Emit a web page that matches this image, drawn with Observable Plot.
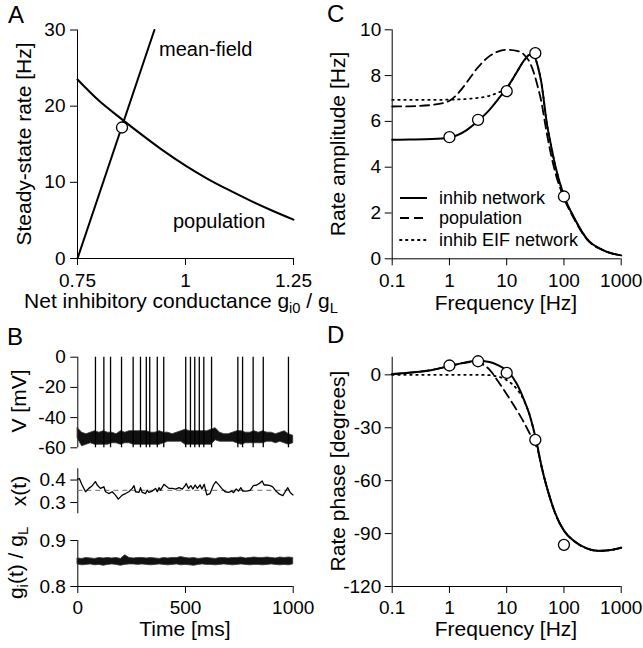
<!DOCTYPE html>
<html><head><meta charset="utf-8">
<script src="https://cdn.jsdelivr.net/npm/d3@7"></script>
<script src="https://cdn.jsdelivr.net/npm/@observablehq/plot@0.6"></script>
<style>
html,body{margin:0;padding:0;background:#fff;}
#fig{position:relative;width:643px;height:648px;overflow:hidden;background:#fff;}
#fig > svg{position:absolute;}
</style></head><body><div id="fig"></div>
<script>
// ---------- Panel A data ----------
const aG = [0.75, 0.8, 0.85, 0.9, 0.95, 1.0, 1.05, 1.1, 1.15, 1.2, 1.25];
const aPopRate = [23.5, 20.7, 18.4, 16.2, 14.1, 12.2, 10.5, 9.0, 7.6, 6.3, 5.1];
const aMfG = [0.75, 0.928];
const aMfRate = [0, 30];
const aFixG = [0.853];
const aFixRate = [17.2];
const aXTicks = [0.75, 1, 1.25];
const aYTicks = [0, 10, 20, 30];

// ---------- Panel C data ----------
const cSolidF = [0.1,0.2,0.5,1,2,3,5,7,10,15,20,25,30,35,40,50,60,70,100,150,250,500,1000];
const cSolidA = [5.2,5.21,5.23,5.3,5.62,5.97,6.5,6.95,7.45,8.15,8.65,8.9,8.85,8.4,7.75,5.95,4.9,4.1,2.75,1.8,0.88,0.36,0.15];
const cDashF = [0.1,0.2,0.5,1,1.5,2,3,5,7,10,15,20,25,30,35,40,50,60,70,100,150,250,500,1000];
const cDashA = [6.65,6.66,6.72,6.9,7.3,7.7,8.3,8.85,9.05,9.13,9.08,8.92,8.6,8.1,7.5,6.9,5.5,4.5,3.8,2.65,1.75,0.86,0.36,0.15];
const cDotF = [0.1,0.5,1,2,3,5,7,10,15,20,25,30,35,40,50,60,70,100,150,250,500,1000];
const cDotA = [6.94,6.94,6.95,6.98,7.02,7.12,7.25,7.45,8.15,8.65,8.9,8.85,8.4,7.75,5.95,4.9,4.1,2.75,1.8,0.88,0.36,0.15];
const cSimF = [1, 3.16, 10, 31.6, 100];
const cSimA = [5.31, 6.07, 7.32, 8.98, 2.72];
const freqTicks = [0.1, 1, 10, 100, 1000];
const cYTicks = [0, 2, 4, 6, 8, 10];

// ---------- Panel D data ----------
const dSolidF = [0.1,0.2,0.5,1,2,3,5,7,10,15,20,25,30,35,40,50,60,70,100,150,250,400,600,1000];
const dSolidP = [0.5,1.2,2.8,5.0,7.2,8.0,7.3,5.5,2.5,-5,-14,-22.5,-32,-41.5,-51,-63.5,-72,-78.3,-88.3,-94.2,-98.4,-99.8,-99.5,-98];
const dDashF = [0.1,0.2,0.5,1,2,3,4,5,7,10,15,20,25,30,35,40,50,60,70,100,150,250,400,600,1000];
const dDashP = [0.5,1.2,2.8,5.0,7.0,7.6,5.5,3,-3.5,-11,-20,-27,-33,-38,-43,-51,-63.5,-72,-78.3,-88.3,-94.2,-98.4,-99.8,-99.5,-98];
const dDotF = [0.1,0.5,1,2,3,5,7,10,15,20,25,30,35,40,50,60,70,100,150,250,400,600,1000];
const dDotP = [0,0,0,0,0,-0.2,-1,-3,-8,-14.5,-22.5,-32,-41.5,-51,-63.5,-72,-78.3,-88.3,-94.2,-98.4,-99.8,-99.5,-98];
const dSimF = [1, 3.16, 10, 31.6, 100];
const dSimP = [5.3, 7.7, 1.1, -36.9, -96.4];
const dYTicks = [-120, -90, -60, -30, 0];

// ---------- Panel B data ----------
const tGrid = [0,20,40,60,80,100,120,140,160,180,200,220,240,260,280,300,320,340,360,380,400,420,440,460,480,500,520,540,560,580,600,620,640,660,680,700,720,740,760,780,800,820,840,860,880,900,920,940,960,980,1000];
const vHi = [-47,-50,-51,-50,-49,-50,-49,-50,-50,-51,
             -49,-50,-49,-49,-49,-49,-49,-50,-50,-49,
             -50,-50,-51,-50,-49,-48,-49,-49,-49,-49,
             -49,-48,-47,-50,-51,-51,-50,-49,-49,-50,
             -50,-49,-50,-49,-50,-50,-51,-50,-49,-51,
             -52];
const vLo = [-54,-59,-58,-57,-58,-58,-58,-58,-57,-57,
             -58,-57,-57,-58,-58,-58,-58,-58,-58,-58,
             -57,-56,-56,-56,-56,-58,-58,-58,-58,-58,
             -58,-58,-55,-56,-56,-56,-56,-57,-58,-57,
             -57,-57,-57,-57,-56,-56,-57,-56,-57,-58,
             -57];
const spikeTimes = [82,121,152,203,257,291,318,334,369,399,501,523,543,564,585,621,743,765,814,861,978];
const spikePeak = 0;
const spikeReset = -60;
const vYTicks = [-60, -40, -20, 0];

const xT = [0,7,20,36,51,67,82,90,105,121,129,144,160,175,188,206,222,237,253,261,268,284,291,299,315,322,330,346,361,369,377,384,400,408,423,439,454,470,485,498,503,514,525,534,545,555,568,576,587,599,614,630,641,653,668,684,700,715,723,735,746,757,766,784,800,815,831,843,856,865,877,893,905,920,936,952,963,975,986,999];
const xV = [0.404,0.407,0.378,0.348,0.363,0.375,0.393,0.378,0.363,0.370,0.348,0.340,0.348,0.333,0.315,0.333,0.340,0.348,0.363,0.375,0.348,0.345,0.366,0.345,0.340,0.355,0.345,0.351,0.363,0.348,0.366,0.355,0.381,0.375,0.363,0.363,0.360,0.366,0.360,0.375,0.385,0.363,0.375,0.360,0.378,0.363,0.378,0.360,0.381,0.334,0.340,0.378,0.393,0.381,0.363,0.348,0.345,0.351,0.344,0.360,0.351,0.366,0.351,0.351,0.354,0.375,0.378,0.385,0.396,0.378,0.378,0.375,0.370,0.351,0.337,0.331,0.348,0.366,0.345,0.334];
const xMean = 0.354;
const xYTicks = [0.3, 0.4];

const gHi = [0.861,0.860,0.862,0.861,0.860,0.862,0.861,0.862,0.861,0.862,
             0.860,0.868,0.862,0.861,0.862,0.862,0.861,0.862,0.861,0.860,
             0.862,0.861,0.862,0.862,0.864,0.862,0.861,0.862,0.860,0.861,
             0.862,0.861,0.860,0.862,0.862,0.861,0.862,0.862,0.863,0.861,
             0.862,0.863,0.862,0.862,0.863,0.862,0.861,0.863,0.862,0.863,
             0.862];
const gLo = [0.848,0.846,0.847,0.848,0.846,0.847,0.845,0.847,0.848,0.847,
             0.845,0.847,0.848,0.848,0.847,0.848,0.847,0.846,0.847,0.848,
             0.847,0.846,0.847,0.848,0.846,0.847,0.846,0.845,0.847,0.848,
             0.847,0.847,0.846,0.847,0.848,0.847,0.846,0.847,0.848,0.847,
             0.846,0.847,0.847,0.846,0.847,0.848,0.847,0.846,0.847,0.846,
             0.848];
const gYTicks = [0.8, 0.9];
const tTicks = [0, 500, 1000];

// ---------- helpers ----------
const FONT = "'Liberation Sans', Arial, Helvetica, sans-serif";
const zip = (xs, ys, kx = "x", ky = "y") => xs.map((x, i) => ({[kx]: x, [ky]: ys[i]}));
const fmt = d => String(d);
function base(w, h, ml, mr, mt, mb) {
  return {width: w, height: h, marginLeft: ml, marginRight: mr, marginTop: mt, marginBottom: mb,
    style: {fontFamily: FONT, fontSize: "19px", background: "transparent", overflow: "visible", color: "#000", maxWidth: "none"}};
}
const fig = document.getElementById("fig");
function place(node, left, top) { node.style.left = left + "px"; node.style.top = top + "px"; node.style.position = "absolute"; fig.appendChild(node); }

// ---------- Panel A ----------
const plotA = Plot.plot({
  ...base(310, 300, 77, 17, 29.5, 42),
  x: {domain: [0.75, 1.25]}, y: {domain: [0, 30]},
  marks: [
    Plot.ruleX([0.75], {strokeWidth: 1}), Plot.ruleY([0], {strokeWidth: 1}),
    Plot.axisX({ticks: aXTicks, tickSize: 7, tickPadding: 8, tickFormat: fmt, label: null}),
    Plot.axisY({ticks: aYTicks, tickSize: 7, tickPadding: 5, tickFormat: fmt, label: null}),
    Plot.line(zip(aG, aPopRate), {x: "x", y: "y", curve: "monotone-x", strokeWidth: 2}),
    Plot.line(zip(aMfG, aMfRate), {x: "x", y: "y", strokeWidth: 2}),
    Plot.dot(zip(aFixG, aFixRate), {x: "x", y: "y", r: 5.5, fill: "white", stroke: "black", strokeWidth: 1.3})
  ]
});
place(plotA, 0, 0);

// ---------- Panel C ----------
const plotC = Plot.plot({
  ...base(323, 300, 71.7, 22.3, 29.3, 41.7),
  x: {type: "log", domain: [0.1, 1000]}, y: {domain: [0, 10]},
  marks: [
    Plot.ruleX([0.1]), Plot.ruleY([0]),
    Plot.axisX({ticks: freqTicks, tickSize: 7, tickPadding: 8, tickFormat: fmt, label: null}),
    Plot.axisY({ticks: cYTicks, tickSize: 7, tickPadding: 4, tickFormat: fmt, label: null}),
    Plot.line(zip(cDotF, cDotA), {x: "x", y: "y", curve: "monotone-x", strokeWidth: 1.8, strokeDasharray: "1.5,4.5", strokeLinecap: "round"}),
    Plot.line(zip(cDashF, cDashA), {x: "x", y: "y", curve: "monotone-x", strokeWidth: 1.8, strokeDasharray: "9,5"}),
    Plot.line(zip(cSolidF, cSolidA), {x: "x", y: "y", curve: "monotone-x", strokeWidth: 2}),
    Plot.dot(zip(cSimF, cSimA), {x: "x", y: "y", r: 5.5, fill: "white", stroke: "black", strokeWidth: 1.3})
  ]
});
place(plotC, 320, 0);

// ---------- Panel D ----------
const plotD = Plot.plot({
  ...base(323, 300, 71.7, 22.3, 36.7, 34),
  x: {type: "log", domain: [0.1, 1000]}, y: {domain: [-120, 10]},
  marks: [
    Plot.ruleX([0.1]), Plot.ruleY([-120]),
    Plot.axisX({ticks: freqTicks, tickSize: 7, tickPadding: 7, tickFormat: fmt, label: null}),
    Plot.axisY({ticks: dYTicks, tickSize: 7, tickPadding: 4, tickFormat: fmt, label: null}),
    Plot.line(zip(dDotF, dDotP), {x: "x", y: "y", curve: "monotone-x", strokeWidth: 1.8, strokeDasharray: "1.5,4.5", strokeLinecap: "round"}),
    Plot.line(zip(dDashF, dDashP), {x: "x", y: "y", curve: "monotone-x", strokeWidth: 1.8, strokeDasharray: "9,5"}),
    Plot.line(zip(dSolidF, dSolidP), {x: "x", y: "y", curve: "monotone-x", strokeWidth: 2}),
    Plot.dot(zip(dSimF, dSimP), {x: "x", y: "y", r: 5.5, fill: "white", stroke: "black", strokeWidth: 1.3})
  ]
});
place(plotD, 320, 320);

// ---------- Panel B : V ----------
const vBand = tGrid.map((t, i) => ({t, hi: vHi[i], lo: vLo[i]}));
const plotV = Plot.plot({
  ...base(310, 120, 77.3, 17.3, 16.7, 12.7),
  x: {domain: [0, 1000], axis: null}, y: {domain: [-60, 0]},
  marks: [
    Plot.ruleX([0]),
    Plot.axisY({ticks: vYTicks, tickSize: 7, tickPadding: 5, tickFormat: fmt, label: null}),
    Plot.areaY(vBand, {x: "t", y1: "lo", y2: "hi", fill: "#111", stroke: "#333", strokeWidth: 0.8}),
    Plot.ruleX(spikeTimes, {x: d => d, y1: spikeReset, y2: spikePeak, strokeWidth: 1.3})
  ]
});
place(plotV, 0, 340);

// ---------- Panel B : x(t) ----------
const plotX = Plot.plot({
  ...base(310, 60, 77.3, 17.3, 8.3, 6.7),
  x: {domain: [0, 1000], axis: null}, y: {domain: [0.25, 0.45]},
  marks: [
    Plot.ruleX([0]),
    Plot.axisY({ticks: xYTicks, tickSize: 7, tickPadding: 5, tickFormat: fmt, label: null}),
    Plot.ruleY([xMean], {stroke: "#888", strokeWidth: 1.3, strokeDasharray: "5,4"}),
    Plot.line(zip(xT, xV), {x: "x", y: "y", strokeWidth: 1.3})
  ]
});
place(plotX, 0, 460);

// ---------- Panel B : g(t) ----------
const gBand = tGrid.map((t, i) => ({t, hi: gHi[i], lo: gLo[i]}));
const plotG = Plot.plot({
  ...base(310, 118, 77.3, 17.3, 10, 62),
  x: {domain: [0, 1000]}, y: {domain: [0.8, 0.9]},
  marks: [
    Plot.ruleX([0]), Plot.ruleY([0.8]),
    Plot.axisX({ticks: tTicks, tickSize: 7, tickPadding: 7, tickFormat: fmt, label: null}),
    Plot.axisY({ticks: gYTicks, tickSize: 7, tickPadding: 5, tickFormat: fmt, label: null}),
    Plot.areaY(gBand, {x: "t", y1: "lo", y2: "hi", fill: "#111", stroke: "#333", strokeWidth: 0.8})
  ]
});
place(plotG, 0, 530);

// ---------- Text overlay (titles, labels, legend) ----------
const ov = d3.create("svg").attr("width", 643).attr("height", 648)
  .style("position", "absolute").style("left", "0px").style("top", "0px")
  .style("font-family", FONT).style("pointer-events", "none");

function label(parts, x, y, size, anchor, rotate) {
  const t = ov.append("text").attr("font-size", size).attr("text-anchor", anchor || "start").attr("fill", "#000");
  if (rotate) t.attr("transform", `translate(${x},${y}) rotate(-90)`);
  else t.attr("x", x).attr("y", y);
  let shifted = false;
  for (const p of parts) {
    const sub = typeof p !== "string";
    const s = t.append("tspan").text(sub ? p.sub : p);
    if (sub && !shifted) { s.attr("dy", 5).attr("font-size", size * 0.7); shifted = true; }
    else if (sub) { s.attr("font-size", size * 0.7); }
    else if (shifted) { s.attr("dy", -5); shifted = false; }
  }
  return t;
}

// panel letters
label(["A"], 8, 23, 24);
label(["C"], 327, 22, 24);
label(["B"], 7, 345, 24);
label(["D"], 327, 343, 24);

// axis titles
label(["Steady-state rate [Hz]"], 31, 144, 21, "middle", true);
label(["Net inhibitory conductance g", {sub: "i0"}, " / g", {sub: "L"}], 181, 308, 21, "middle");
label(["Rate amplitude [Hz]"], 345, 144, 21, "middle", true);
label(["Frequency [Hz]"], 506, 310, 21, "middle");
label(["Rate phase [degrees]"], 345, 471, 21, "middle", true);
label(["Frequency [Hz]"], 506, 636, 21, "middle");
label(["V [mV]"], 26, 401, 21, "middle", true);
label(["x(t)"], 26, 491, 21, "middle", true);
label(["g", {sub: "i"}, "(t) / g", {sub: "L"}], 23, 563, 21, "middle", true);
label(["Time [ms]"], 185, 636, 21, "middle");

// annotations in A
label(["mean-field"], 159, 56, 20);
label(["population"], 173, 228, 20);

// legend in C
const legendItems = [
  {name: "inhib network", dash: null, y: 198},
  {name: "population", dash: "9,5", y: 218},
  {name: "inhib EIF network", dash: "1.5,4.5", y: 240}
];
for (const it of legendItems) {
  const ln = ov.append("line").attr("x1", 400).attr("x2", 427).attr("y1", it.y).attr("y2", it.y)
    .attr("stroke", "#000").attr("stroke-width", it.dash ? 1.8 : 2);
  if (it.dash) ln.attr("stroke-dasharray", it.dash);
  if (it.dash === "1.5,4.5") ln.attr("stroke-linecap", "round");
  label([it.name], 439, it.y + 6, 18);
}
fig.appendChild(ov.node());
</script></body></html>
